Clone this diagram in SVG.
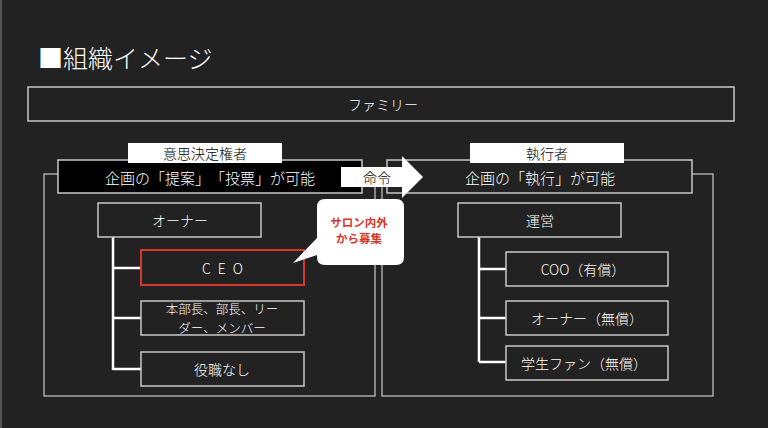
<svg xmlns="http://www.w3.org/2000/svg" width="768" height="428" viewBox="0 0 768 428">
<style>
text{font-family:"Noto Sans CJK JP","Noto Sans",sans-serif;fill:#fff;font-size:14px;font-weight:300;text-anchor:middle;dominant-baseline:central;text-spacing-trim:space-all}
.box{fill:#222;stroke:#c8c8c8;stroke-width:1.5}
.outer{fill:none;stroke:#c8c8c8;stroke-width:1.2}
.lbl{fill:#fff;stroke:none}
.dark{fill:#000}
.hdr{font-size:15px}
.two{font-size:12.5px}
.conn{fill:none;stroke:#fff;stroke-width:2.5}
.red{fill:#d7372b;font-weight:bold;font-size:11.5px}
</style>
<rect x="0" y="0" width="768" height="428" fill="#222"/>
<rect x="0" y="0" width="2" height="428" fill="#555"/>
<text x="38" y="57" style="font-size:25px;text-anchor:start">■組織イメージ</text>
<g id="family"><rect class="box" x="28" y="87" width="706" height="34"/><text x="383" y="104">ファミリー</text></g>
<g id="left-group"><rect class="outer" x="44" y="174" width="331" height="222"/></g>
<g id="right-group"><rect class="outer" x="382" y="174" width="331" height="222"/></g>
<g id="decision"><rect x="58" y="160" width="304" height="33" fill="#000" stroke="#c8c8c8" stroke-width="1.5"/><text class="hdr" x="210" y="177">企画の「提案」「投票」が可能</text></g>
<g id="decision-label"><rect class="lbl" x="128" y="143" width="154" height="20"/><text class="dark" x="205" y="153">意思決定権者</text></g>
<g id="exec"><rect class="box" x="387" y="160" width="305" height="33"/><text class="hdr" x="540" y="177">企画の「執行」が可能</text></g>
<g id="exec-label"><rect class="lbl" x="470" y="143" width="154" height="20"/><text class="dark" x="547" y="153">執行者</text></g>
<g id="connectors">
<path class="conn" d="M113 237V370M113 268H141M113 318H141M113 369H141"/>
<path class="conn" d="M479 237V362M479 269H506M479 318H506M479 362H506"/>
</g>
<g id="command"><path d="M341 167H402V156L423 177L402 198V187H341Z" fill="#fff"/><text class="dark" x="377" y="177">命令</text></g>
<g id="owner"><rect class="box" x="98" y="203" width="163" height="34"/><text x="180" y="220">オーナー</text></g>
<g id="ceo"><rect x="141" y="250" width="163" height="35" fill="#222" stroke="#d7372b" stroke-width="2"/><text x="226" y="268" style="letter-spacing:7px">CEO</text></g>
<g id="managers"><rect class="box" x="141" y="301" width="163" height="34"/><text class="two" x="222" y="308.5">本部長、部長、リー</text><text class="two" x="222" y="327.5">ダー、メンバー</text></g>
<g id="none"><rect class="box" x="141" y="352" width="163" height="34"/><text x="222" y="369">役職なし</text></g>
<g id="callout"><path d="M325 199H396Q404 199 404 207V257Q404 265 396 265H325Q317 265 317 257V255L293 263L317 238V207Q317 199 325 199Z" fill="#fff"/><text class="red" x="359" y="222">サロン内外</text><text class="red" x="359" y="238">から募集</text></g>
<g id="ops"><rect class="box" x="458" y="203" width="163" height="34"/><text x="540" y="220">運営</text></g>
<g id="coo"><rect class="box" x="506" y="252" width="162" height="34"/><text x="583" y="269">COO（有償）</text></g>
<g id="owner2"><rect class="box" x="506" y="301" width="162" height="34"/><text x="587" y="318">オーナー（無償）</text></g>
<g id="fan"><rect class="box" x="506" y="346" width="162" height="34"/><text x="584" y="363">学生ファン（無償）</text></g>
</svg>
